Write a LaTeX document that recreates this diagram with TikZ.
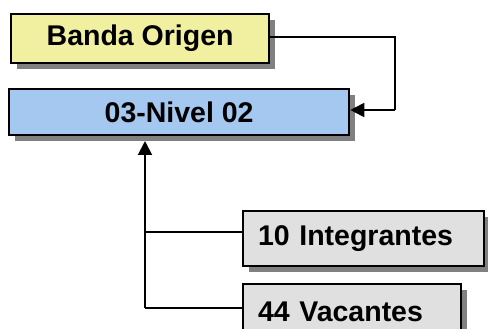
\documentclass[tikz,border=0pt]{standalone}
\usepackage{fontspec}
\setmainfont{Liberation Sans}
\usetikzlibrary{shadows,arrows.meta}
\begin{document}
\begin{tikzpicture}[x=1pt,y=-1pt,
  box/.style={draw=black, line width=2.3pt, inner sep=0pt, anchor=north west,
    font=\fontsize{28.5}{30}\selectfont\bfseries,
    drop shadow={shadow xshift=5.5pt, shadow yshift=-5.5pt, fill=black!50, opacity=1}},
  conn/.style={draw=black, line width=1.9pt},
  tip/.style={-{Triangle[length=14pt,width=14pt]}}]
\useasboundingbox (0,0) rectangle (488,329);
\clip (0,0) rectangle (488,329);
\node[box, fill={rgb,255:red,240;green,240;blue,160}, minimum width=258pt, minimum height=49pt] (banda) at (10,13) {Banda Origen};
\node[box, fill={rgb,255:red,164;green,200;blue,240}, minimum width=340pt, minimum height=46pt] (nivel) at (8,88) {03-Nivel 02};
\node[box, fill=black!12, minimum width=241pt, minimum height=55pt, text width=211pt, align=left] (integ) at (242,210) {10 Integrantes};
\node[box, fill=black!12, minimum width=218pt, minimum height=55pt, text width=188pt, align=left] (vac) at (242,283) {44 Vacantes};
\coordinate (c1) at (395,37);
\coordinate (c2) at (395,110);
\coordinate (up) at (145,141);
\coordinate (j1) at (145,232);
\coordinate (j2) at (145,308);
\draw[conn] (banda.east |- c1) -- (c1) -- (c2);
\draw[conn, tip] (c2) -- (nivel.east |- c2);
\draw[conn, tip] (j2) -- (up);
\draw[conn] (j1) -- (integ.west |- j1);
\draw[conn] (j2) -- (vac.west |- j2);
\end{tikzpicture}
\end{document}
